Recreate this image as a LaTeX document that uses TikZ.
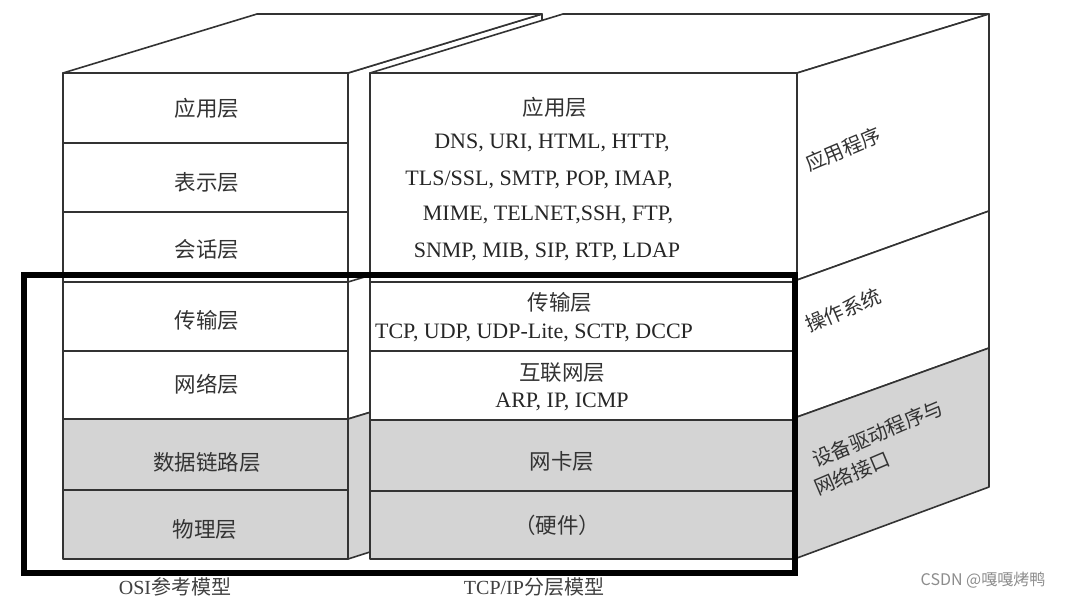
\documentclass[tikz,border=0pt]{standalone}
\usepackage{fontspec}
\setmainfont{Liberation Serif}
\newfontfamily\cjk{Noto Sans CJK SC}
\begin{document}
\begin{tikzpicture}[x=1pt,y=-1pt,
  edge/.style={draw=black!80, line width=1.6pt, line join=round},
  grayface/.style={fill=black!17},
  whiteface/.style={fill=white},
  lbl/.style={font=\cjk\fontsize{21.5}{25}\selectfont, text=black!80, inner sep=0pt},
  proto/.style={font=\fontsize{22}{26}\selectfont, text=black!85, inner sep=0pt},
  side/.style={font=\cjk\fontsize{20}{24}\selectfont, text=black!80, rotate=23, inner sep=0pt, anchor=base west},
  frame/.style={draw=black, line width=6pt},
]
\useasboundingbox (0,0) rectangle (1067,598);

% ---------- OSI box ----------
% side face (mostly hidden)
\path[edge, whiteface] (348,73) -- (542,14) -- (542,360) -- (348,419) -- cycle;
\path[edge, grayface] (348,419) -- (542,360) -- (542,497) -- (348,559) -- cycle;
\draw[edge] (348,282) -- (542,223);
% top face
\path[edge, whiteface] (63,73) -- (257,14) -- (542,14) -- (348,73) -- cycle;
% front face rows
\path[edge, whiteface] (63,73) rectangle (348,143);
\path[edge, whiteface] (63,143) rectangle (348,212);
\path[edge, whiteface] (63,212) rectangle (348,282);
\path[edge, whiteface] (63,282) rectangle (348,351);
\path[edge, whiteface] (63,351) rectangle (348,419);
\path[edge, grayface] (63,419) rectangle (348,490);
\path[edge, grayface] (63,490) rectangle (348,559);

% ---------- TCP/IP box ----------
% top face
\path[edge, whiteface] (370,73) -- (563,14) -- (989,14) -- (797,73) -- cycle;
% side face
\path[edge, whiteface] (797,73) -- (989,14) -- (989,211) -- (797,280) -- cycle;
\path[edge, whiteface] (797,280) -- (989,211) -- (989,348) -- (797,417) -- cycle;
\path[edge, grayface] (797,417) -- (989,348) -- (989,487) -- (797,558) -- cycle;
% front face rows
\path[edge, whiteface] (370,73) rectangle (797,282);
\path[edge, whiteface] (370,282) rectangle (797,351);
\path[edge, whiteface] (370,351) rectangle (797,420);
\path[edge, grayface] (370,420) rectangle (797,491);
\path[edge, grayface] (370,491) rectangle (797,559);

% ---------- OSI labels ----------
\node[lbl] (osi7) at (207,108) {应用层};
\node[lbl] (osi6) at (207,182) {表示层};
\node[lbl] (osi5) at (207,249) {会话层};
\node[lbl] (osi4) at (207,320) {传输层};
\node[lbl] (osi3) at (207,384) {网络层};
\node[lbl] (osi2) at (207,462) {数据链路层};
\node[lbl] (osi1) at (205,529) {物理层};

% ---------- TCP/IP labels ----------
\node[lbl] (tapp) at (555,107) {应用层};
\node[proto] (tapp1) at (552,143) {DNS, URI, HTML, HTTP,};
\node[proto] (tapp2) at (539,180) {TLS/SSL, SMTP, POP, IMAP,};
\node[proto] (tapp3) at (548,215) {MIME, TELNET,SSH, FTP,};
\node[proto] (tapp4) at (547,252) {SNMP, MIB, SIP, RTP, LDAP};
\node[lbl] (ttr) at (560,302) {传输层};
\node[proto] (ttr1) at (534,333) {TCP, UDP, UDP-Lite, SCTP, DCCP};
\node[lbl] (tnet) at (562,373) {互联网层};
\node[proto] (tnet1) at (562,402) {ARP, IP, ICMP};
\node[lbl] (tnic) at (562,461) {网卡层};
\node[lbl] (thw) at (557,525) {（硬件）};

% ---------- side labels ----------
\node[side] (sapp) at (809,172) {应用程序};
\node[side] (sos) at (809,333) {操作系统};
\node[side] (sdrv1) at (816,468) {设备驱动程序与};
\node[side] (sdrv2) at (818,496) {网络接口};

% ---------- highlight frame ----------
\draw[frame] (24,275) rectangle (795,573);

% ---------- captions ----------
\node[font=\fontsize{20}{24}\selectfont, text=black!75, inner sep=0pt] (capo) at (175,587) {OSI{\cjk 参考模型}};
\node[font=\fontsize{20}{24}\selectfont, text=black!75, inner sep=0pt] (capt) at (534,587) {TCP/IP{\cjk 分层模型}};
\node[font=\cjk\fontsize{16}{20}\selectfont, text=black!45, inner sep=0pt] (wm) at (983,580) {CSDN @嘎嘎烤鸭};
\end{tikzpicture}
\end{document}
